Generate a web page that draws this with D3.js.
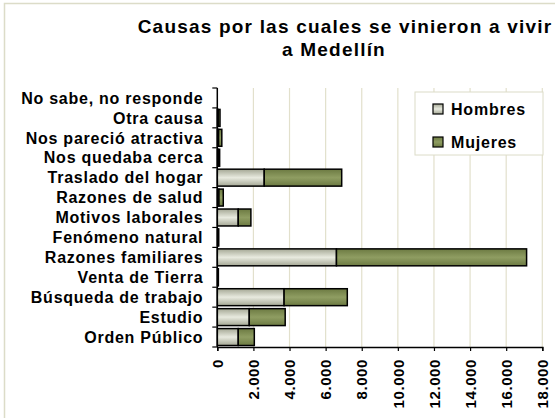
<!DOCTYPE html>
<html>
<head>
<meta charset="utf-8">
<script src="https://cdn.jsdelivr.net/npm/d3@7"></script>
<style>
  body { margin: 0; background: #fff; }
  text { font-family: Arial, "Liberation Sans", sans-serif; font-weight: bold; fill: #000; }
</style>
</head>
<body>
<div id="chart"></div>
<script>
// data (top to bottom)
var categories = ["No sabe, no responde", "Otra causa", "Nos pareció atractiva", "Nos quedaba cerca",
  "Traslado del hogar", "Razones de salud", "Motivos laborales", "Fenómeno natural",
  "Razones familiares", "Venta de Tierra", "Búsqueda de trabajo", "Estudio", "Orden Público"];
var hombres = [0, 50, 70, 50, 2600, 90, 1160, 40, 6600, 30, 3700, 1770, 1160];
var mujeres = [0, 100, 180, 80, 4290, 240, 700, 40, 10530, 30, 3500, 1990, 890];
var series = ["Hombres", "Mujeres"];
var xTicks = [0, 2000, 4000, 6000, 8000, 10000, 12000, 14000, 16000, 18000];

var W = 555, H = 418;
var margin = {top: 88, right: 12.7, bottom: 71, left: 217.3},
    width = W - margin.left - margin.right,
    height = H - margin.top - margin.bottom;

var svg = d3.select("#chart")
  .append("svg")
    .attr("width", W)
    .attr("height", H);

// chart border
svg.append("rect")
  .attr("x", 4.5).attr("y", 3.5)
  .attr("width", W).attr("height", H)
  .attr("fill", "none")
  .attr("stroke", "#dcdcc8")
  .attr("stroke-width", 1.5);

// gradients
var defs = svg.append("defs");
function grad(id, edge, mid) {
  var g = defs.append("linearGradient").attr("id", id)
    .attr("x1", 0).attr("y1", 0).attr("x2", 0).attr("y2", 1);
  g.append("stop").attr("offset", "0%").attr("stop-color", edge);
  g.append("stop").attr("offset", "50%").attr("stop-color", mid);
  g.append("stop").attr("offset", "100%").attr("stop-color", edge);
}
grad("gH", "#a4a794", "#e8eadf");
grad("gM", "#6c7a42", "#8f9d62");
var fills = {Hombres: "url(#gH)", Mujeres: "url(#gM)"};

// title
var title = svg.append("text")
  .attr("text-anchor", "middle")
  .style("font-size", "19px")
  .style("letter-spacing", "1.2px");
title.append("tspan").attr("x", 345).attr("y", 33).text("Causas por las cuales se vinieron a vivir");
title.append("tspan").attr("x", 334).attr("y", 56).text("a Medellín");

var g = svg.append("g")
  .attr("transform", "translate(" + margin.left + "," + margin.top + ")");

var x = d3.scaleLinear().domain([0, 18000]).range([0, width]);
var y = d3.scaleBand().domain(categories).range([0, height]).paddingInner(0.15).paddingOuter(0.075);

// gridlines
g.append("g")
  .selectAll("line")
  .data(xTicks.slice(1))
  .enter()
  .append("line")
    .attr("x1", function (d) { return x(d); })
    .attr("x2", function (d) { return x(d); })
    .attr("y1", 0).attr("y2", height)
    .attr("stroke", "#e2e0cc")
    .attr("stroke-width", 1.2);

// stacked bars
var rows = categories.map(function (c, i) { return {cat: c, Hombres: hombres[i], Mujeres: mujeres[i]}; });
var stacked = d3.stack().keys(series)(rows);

g.append("g")
  .selectAll("g")
  .data(stacked)
  .enter()
  .append("g")
    .attr("fill", function (d) { return fills[d.key]; })
  .selectAll("rect")
  .data(function (d) { return d; })
  .enter()
  .append("rect")
    .filter(function (d) { return d[1] - d[0] > 0; })
    .attr("x", function (d) { return x(d[0]); })
    .attr("y", function (d) { return y(d.data.cat); })
    .attr("width", function (d) { return x(d[1]) - x(d[0]); })
    .attr("height", y.bandwidth())
    .attr("stroke", "#000")
    .attr("stroke-width", 1.5);

// x axis
var xAxis = g.append("g")
  .attr("transform", "translate(0," + height + ")")
  .call(d3.axisBottom(x).tickValues(xTicks).tickSize(4)
    .tickFormat(function (d) { return d3.format(",")(d).replace(/,/g, "."); }));
xAxis.select(".domain").attr("stroke", "#000").attr("stroke-width", 1.5);
xAxis.selectAll(".tick line").attr("stroke", "#000").attr("stroke-width", 1.2);
xAxis.selectAll(".tick text")
  .style("font-size", "15px")
  .style("letter-spacing", "0.6px")
  .attr("transform", "rotate(-90)")
  .attr("text-anchor", "end")
  .attr("x", -12)
  .attr("y", 0)
  .attr("dy", "0.35em");

// y axis, ticks between categories
var yAxis = g.append("g");
yAxis.append("line")
  .attr("x1", 0).attr("x2", 0).attr("y1", 0).attr("y2", height)
  .attr("stroke", "#000").attr("stroke-width", 1.5);
var step = height / categories.length;
yAxis.selectAll(".yt")
  .data(d3.range(categories.length + 1))
  .enter()
  .append("line")
    .attr("x1", -5).attr("x2", 0)
    .attr("y1", function (d) { return d * step; })
    .attr("y2", function (d) { return d * step; })
    .attr("stroke", "#000").attr("stroke-width", 1.2);
yAxis.selectAll("text")
  .data(categories)
  .enter()
  .append("text")
    .attr("x", -14)
    .attr("y", function (d) { return y(d) + y.bandwidth() / 2; })
    .attr("dy", "0.36em")
    .attr("text-anchor", "end")
    .style("font-size", "16px")
    .style("letter-spacing", "0.75px")
    .text(function (d) { return d; });

// legend
var lg = svg.append("g").attr("transform", "translate(415,92)");
lg.append("rect")
  .attr("width", 128).attr("height", 63)
  .attr("fill", "#fff")
  .attr("stroke", "#dcdcc8");
lg.selectAll("rect.sw")
  .data(series)
  .enter()
  .append("rect")
    .attr("class", "sw")
    .attr("x", 18)
    .attr("y", function (d, i) { return 12 + i * 33; })
    .attr("width", 10).attr("height", 10)
    .attr("fill", function (d) { return fills[d]; })
    .attr("stroke", "#000").attr("stroke-width", 1.2);
lg.selectAll("text")
  .data(series)
  .enter()
  .append("text")
    .attr("x", 36)
    .attr("y", function (d, i) { return 23 + i * 33; })
    .style("font-size", "16px")
    .style("letter-spacing", "0.8px")
    .text(function (d) { return d; });
</script>
</body>
</html>
